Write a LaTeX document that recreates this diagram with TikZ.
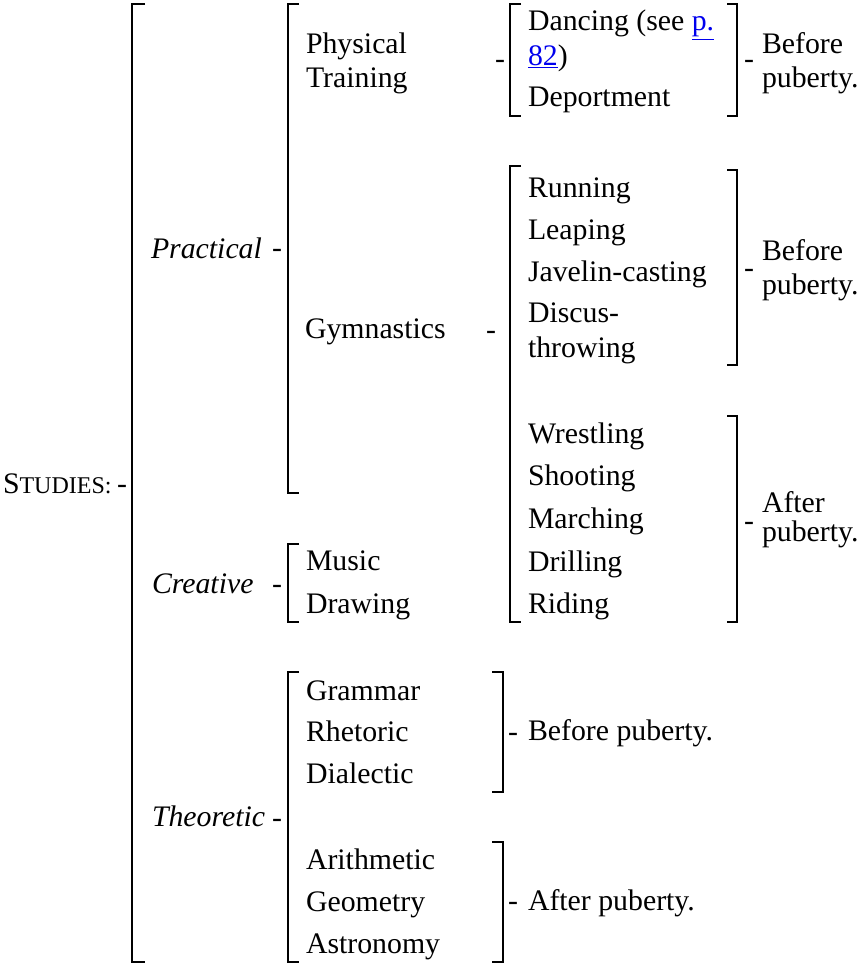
\documentclass[tikz,border=0pt]{standalone}
\usepackage{fontspec}
\setmainfont{Liberation Serif}
\definecolor{linkblue}{RGB}{0,0,238}
\begin{document}
\begin{tikzpicture}[x=1pt,y=-1pt,
  txt/.style={anchor=base west,inner sep=0pt,outer sep=0pt,font=\fontsize{29.8}{34}\selectfont},
  brk/.style={line width=2pt,line cap=butt,line join=miter}]
\useasboundingbox (0,0) rectangle (859,966);
% brackets
\draw[brk] (145,4) -- (132,4) -- (132,962) -- (145,962);
\draw[brk] (299,4) -- (288,4) -- (288,493) -- (299,493);
\draw[brk] (299,544) -- (288,544) -- (288,622) -- (299,622);
\draw[brk] (299,672) -- (288,672) -- (288,962) -- (299,962);
\draw[brk] (521,4) -- (510,4) -- (510,116) -- (521,116);
\draw[brk] (727,4) -- (737,4) -- (737,116) -- (727,116);
\draw[brk] (521,166) -- (510,166) -- (510,622) -- (521,622);
\draw[brk] (727,170) -- (737,170) -- (737,365) -- (727,365);
\draw[brk] (727,416) -- (737,416) -- (737,622) -- (727,622);
\draw[brk] (492,672) -- (503,672) -- (503,792) -- (492,792);
\draw[brk] (492,842) -- (503,842) -- (503,962) -- (492,962);
% level 0
\node[txt] (studies) at (3,493) {S{\fontsize{24}{28}\selectfont TUDIES:}};
\node[txt] (d0) at (117,493) {-};
% level 1
\node[txt] (practical) at (151,258) {\itshape Practical};
\node[txt] (d1) at (272,257) {-};
\node[txt] (creative) at (152,593) {\itshape Creative};
\node[txt] (d2) at (272,593) {-};
\node[txt] (theoretic) at (152,826) {\itshape Theoretic};
\node[txt] (d3) at (272,827) {-};
% level 2
\node[txt] (phys1) at (306,53) {Physical};
\node[txt] (phys2) at (306,87) {Training};
\node[txt] (d4) at (495,69) {-};
\node[txt] (gym) at (305,338) {Gymnastics};
\node[txt] (d5) at (486,339) {-};
\node[txt] (music) at (306,570) {Music};
\node[txt] (drawing) at (306,613) {Drawing};
\node[txt] (grammar) at (306,700) {Grammar};
\node[txt] (rhetoric) at (306,741) {Rhetoric};
\node[txt] (dialectic) at (306,783) {Dialectic};
\node[txt] (arith) at (306,869) {Arithmetic};
\node[txt] (geom) at (306,911) {Geometry};
\node[txt] (astro) at (306,953) {Astronomy};
\node[txt] (d6) at (508,741) {-};
\node[txt] (bp3) at (528,740) {Before puberty.};
\node[txt] (d7) at (508,910) {-};
\node[txt] (ap2) at (528,910) {After puberty.};
% level 3
\node[txt] (dance1) at (528,31) {Dancing (see {\color{linkblue}\underline{p.}}};
\node[txt] (dance2) at (528,66) {{\color{linkblue}\underline{82}})};
\node[txt] (deport) at (528,106) {Deportment};
\node[txt] (d8) at (744,69) {-};
\node[txt] (bp1a) at (762,53) {Before};
\node[txt] (bp1b) at (762,87) {puberty.};
\node[txt] (run) at (528,197) {Running};
\node[txt] (leap) at (528,239) {Leaping};
\node[txt] (jav) at (528,281) {Javelin-casting};
\node[txt] (disc1) at (528,322) {Discus-};
\node[txt] (disc2) at (528,357) {throwing};
\node[txt] (d9) at (744,277) {-};
\node[txt] (bp2a) at (762,260) {Before};
\node[txt] (bp2b) at (762,294) {puberty.};
\node[txt] (wres) at (528,443) {Wrestling};
\node[txt] (shoot) at (528,485) {Shooting};
\node[txt] (march) at (528,528) {Marching};
\node[txt] (drill) at (528,571) {Drilling};
\node[txt] (ride) at (528,613) {Riding};
\node[txt] (d10) at (744,530) {-};
\node[txt] (ap1a) at (762,512) {After};
\node[txt] (ap1b) at (762,541) {puberty.};
\end{tikzpicture}
\end{document}
